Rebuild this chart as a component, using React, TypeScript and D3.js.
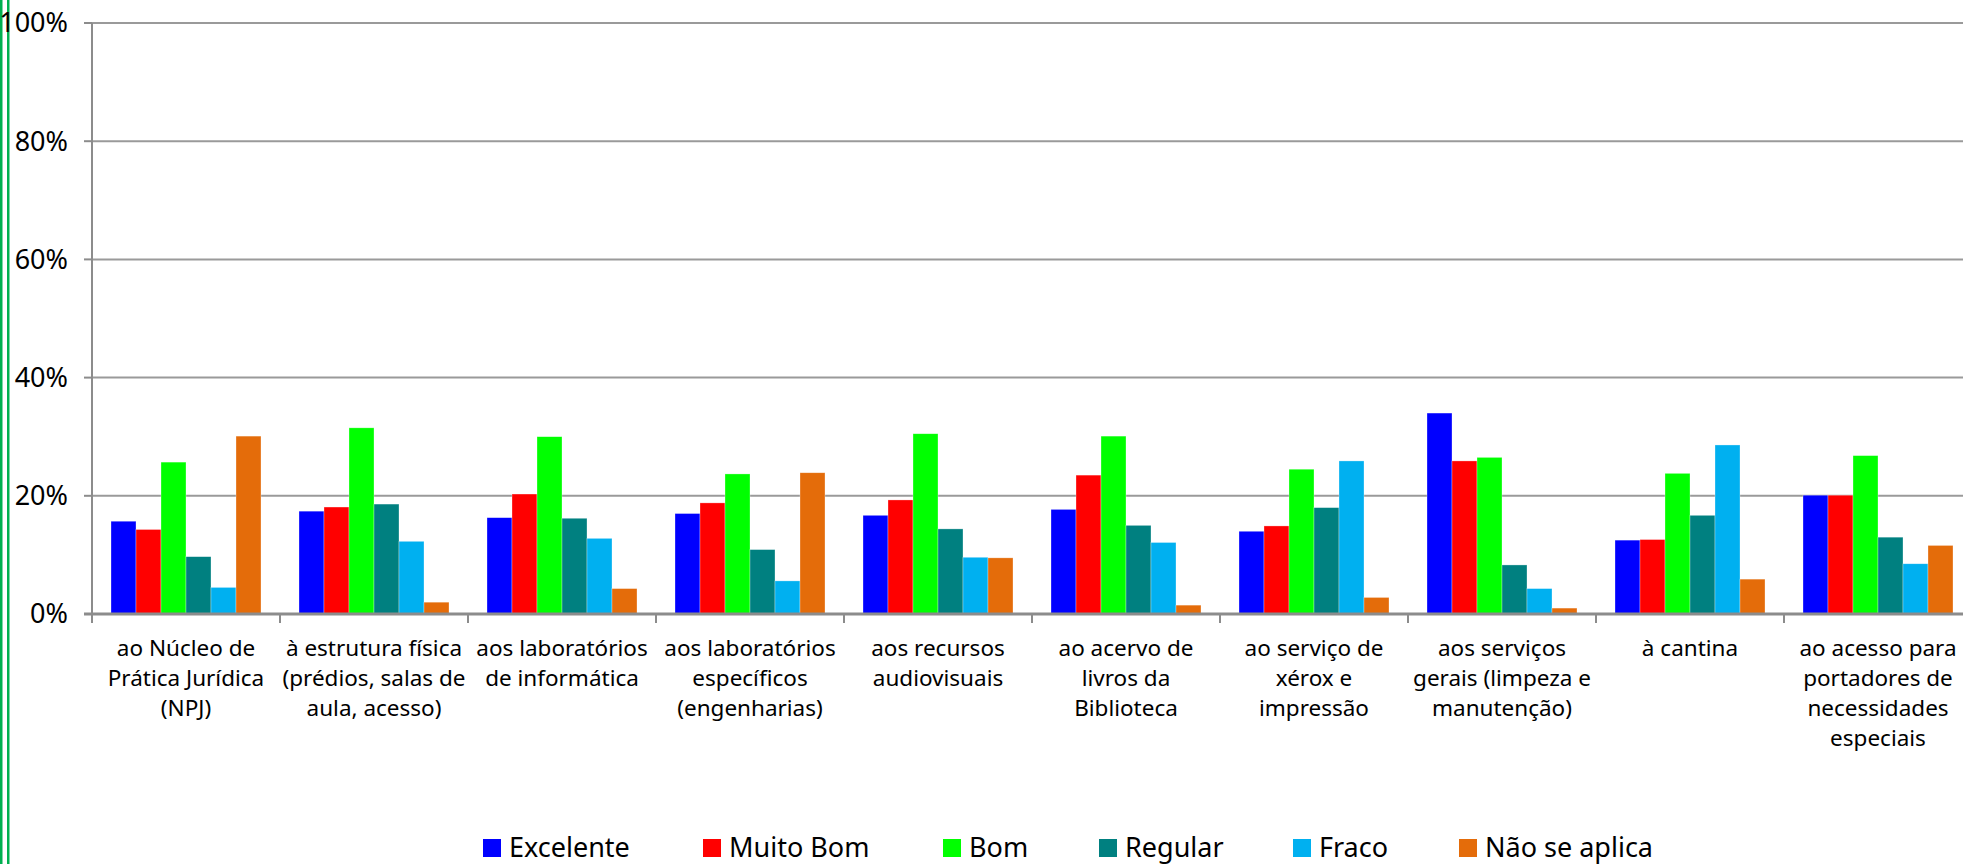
import { useEffect, useRef } from 'react';
import * as d3 from 'd3';

const categories = [
  ['ao Núcleo de', 'Prática Jurídica', '(NPJ)'],
  ['à estrutura física', '(prédios, salas de', 'aula, acesso)'],
  ['aos laboratórios', 'de informática'],
  ['aos laboratórios', 'específicos', '(engenharias)'],
  ['aos recursos', 'audiovisuais'],
  ['ao acervo de', 'livros da', 'Biblioteca'],
  ['ao serviço de', 'xérox e', 'impressão'],
  ['aos serviços', 'gerais (limpeza e', 'manutenção)'],
  ['à cantina'],
  ['ao acesso para', 'portadores de', 'necessidades', 'especiais'],
];

const seriesNames = ['Excelente', 'Muito Bom', 'Bom', 'Regular', 'Fraco', 'Não se aplica'];
const seriesColors = ['#0000FF', '#FF0000', '#00FF00', '#008080', '#00B0F0', '#E46C0A'];

const excelente = [15.7, 17.4, 16.3, 17.0, 16.7, 17.7, 14.0, 34.0, 12.5, 20.1];
const muitoBom = [14.3, 18.1, 20.3, 18.8, 19.3, 23.5, 14.9, 25.9, 12.6, 20.1];
const bom = [25.7, 31.5, 30.0, 23.7, 30.5, 30.1, 24.5, 26.5, 23.8, 26.8];
const regular = [9.7, 18.6, 16.2, 10.9, 14.4, 15.0, 18.0, 8.3, 16.7, 13.0];
const fraco = [4.5, 12.3, 12.8, 5.6, 9.6, 12.1, 25.9, 4.3, 28.6, 8.5];
const naoSeAplica = [30.1, 2.0, 4.3, 23.9, 9.5, 1.5, 2.8, 1.0, 5.9, 11.6];

const yTicks = [0, 20, 40, 60, 80, 100];

export default function App() {
  const svgRef = useRef<SVGSVGElement>(null);

  useEffect(() => {
    if (!svgRef.current) return;
    const W = 1963;
    const H = 864;
    const svg = d3.select(svgRef.current);
    svg.selectAll('*').remove();
    svg.attr('width', W).attr('height', H);

    const values = [excelente, muitoBom, bom, regular, fraco, naoSeAplica];
    const left = 92;
    const bandW = 188;
    const top = 23;
    const bottom = 614;
    const font = "'Noto Sans', sans-serif";

    // green double frame on the left
    svg.append('rect').attr('x', 0).attr('y', 0).attr('width', 2.5).attr('height', H).attr('fill', '#00B050');
    svg.append('rect').attr('x', 7).attr('y', 0).attr('width', 2.5).attr('height', H).attr('fill', '#00B050');

    const idx = categories.map((_, i) => String(i));
    const x0 = d3.scaleBand().domain(idx).range([left, left + bandW * categories.length]);
    const x1 = d3.scaleBand().domain(seriesNames).range([19, bandW - 19]);
    const y = d3.scaleLinear().domain([0, 100]).range([bottom, top]);

    // grid lines
    svg
      .append('g')
      .selectAll('line')
      .data(yTicks.filter((t) => t > 0))
      .enter()
      .append('line')
      .attr('x1', left)
      .attr('x2', W)
      .attr('y1', (d) => y(d))
      .attr('y2', (d) => y(d))
      .attr('stroke', '#9a9a9a')
      .attr('stroke-width', 2);

    // bars
    seriesNames.forEach((name, s) => {
      svg
        .append('g')
        .selectAll('rect')
        .data(values[s])
        .enter()
        .append('rect')
        .attr('x', (_, i) => (x0(String(i)) as number) + (x1(name) as number))
        .attr('y', (d) => y(d))
        .attr('width', x1.bandwidth())
        .attr('height', (d) => bottom - y(d))
        .attr('fill', seriesColors[s])
        .attr('stroke', '#ffffff')
        .attr('stroke-opacity', 0.5)
        .attr('stroke-width', 0.6);
    });

    // y axis
    svg.append('line').attr('x1', left).attr('x2', left).attr('y1', top).attr('y2', bottom)
      .attr('stroke', '#8c8c8c').attr('stroke-width', 2);
    svg
      .append('g')
      .selectAll('line')
      .data(yTicks)
      .enter()
      .append('line')
      .attr('x1', left - 8)
      .attr('x2', left)
      .attr('y1', (d) => y(d))
      .attr('y2', (d) => y(d))
      .attr('stroke', '#8c8c8c')
      .attr('stroke-width', 2);
    svg
      .append('g')
      .selectAll('text')
      .data(yTicks)
      .enter()
      .append('text')
      .attr('x', 68)
      .attr('y', (d) => y(d))
      .attr('dy', '0.35em')
      .attr('text-anchor', 'end')
      .style('font-family', font)
      .style('font-size', '27px')
      .attr('fill', '#000')
      .text((d) => `${d}%`);

    // x axis
    svg.append('line').attr('x1', left - 8).attr('x2', W).attr('y1', bottom).attr('y2', bottom)
      .attr('stroke', '#8c8c8c').attr('stroke-width', 3);
    svg
      .append('g')
      .selectAll('line')
      .data(d3.range(categories.length + 1))
      .enter()
      .append('line')
      .attr('x1', (i) => left + i * bandW)
      .attr('x2', (i) => left + i * bandW)
      .attr('y1', bottom)
      .attr('y2', bottom + 9)
      .attr('stroke', '#8c8c8c')
      .attr('stroke-width', 2);

    const labels = svg.append('g');
    categories.forEach((lines, i) => {
      const cx = (x0(String(i)) as number) + bandW / 2;
      const t = labels
        .append('text')
        .attr('text-anchor', 'middle')
        .style('font-family', font)
        .style('font-size', '22.5px')
        .attr('fill', '#000');
      lines.forEach((ln, j) => {
        t.append('tspan').attr('x', cx).attr('y', 648 + j * 30).attr('dy', '0.35em').text(ln);
      });
    });

    // legend
    const legendX = [483, 703, 943, 1099, 1293, 1459];
    const lg = svg.append('g');
    seriesNames.forEach((name, s) => {
      lg.append('rect').attr('x', legendX[s]).attr('y', 839).attr('width', 18).attr('height', 18)
        .attr('fill', seriesColors[s]);
      lg.append('text')
        .attr('x', legendX[s] + 26)
        .attr('y', 848)
        .attr('dy', '0.35em')
        .style('font-family', font)
        .style('font-size', '27px')
        .attr('fill', '#000')
        .text(name);
    });
  }, []);

  return (
    <div style={{ position: 'fixed', left: 0, top: 0, width: 1963, height: 864, overflow: 'hidden', background: '#fff' }}>
      <svg ref={svgRef} style={{ display: 'block' }} />
    </div>
  );
}
